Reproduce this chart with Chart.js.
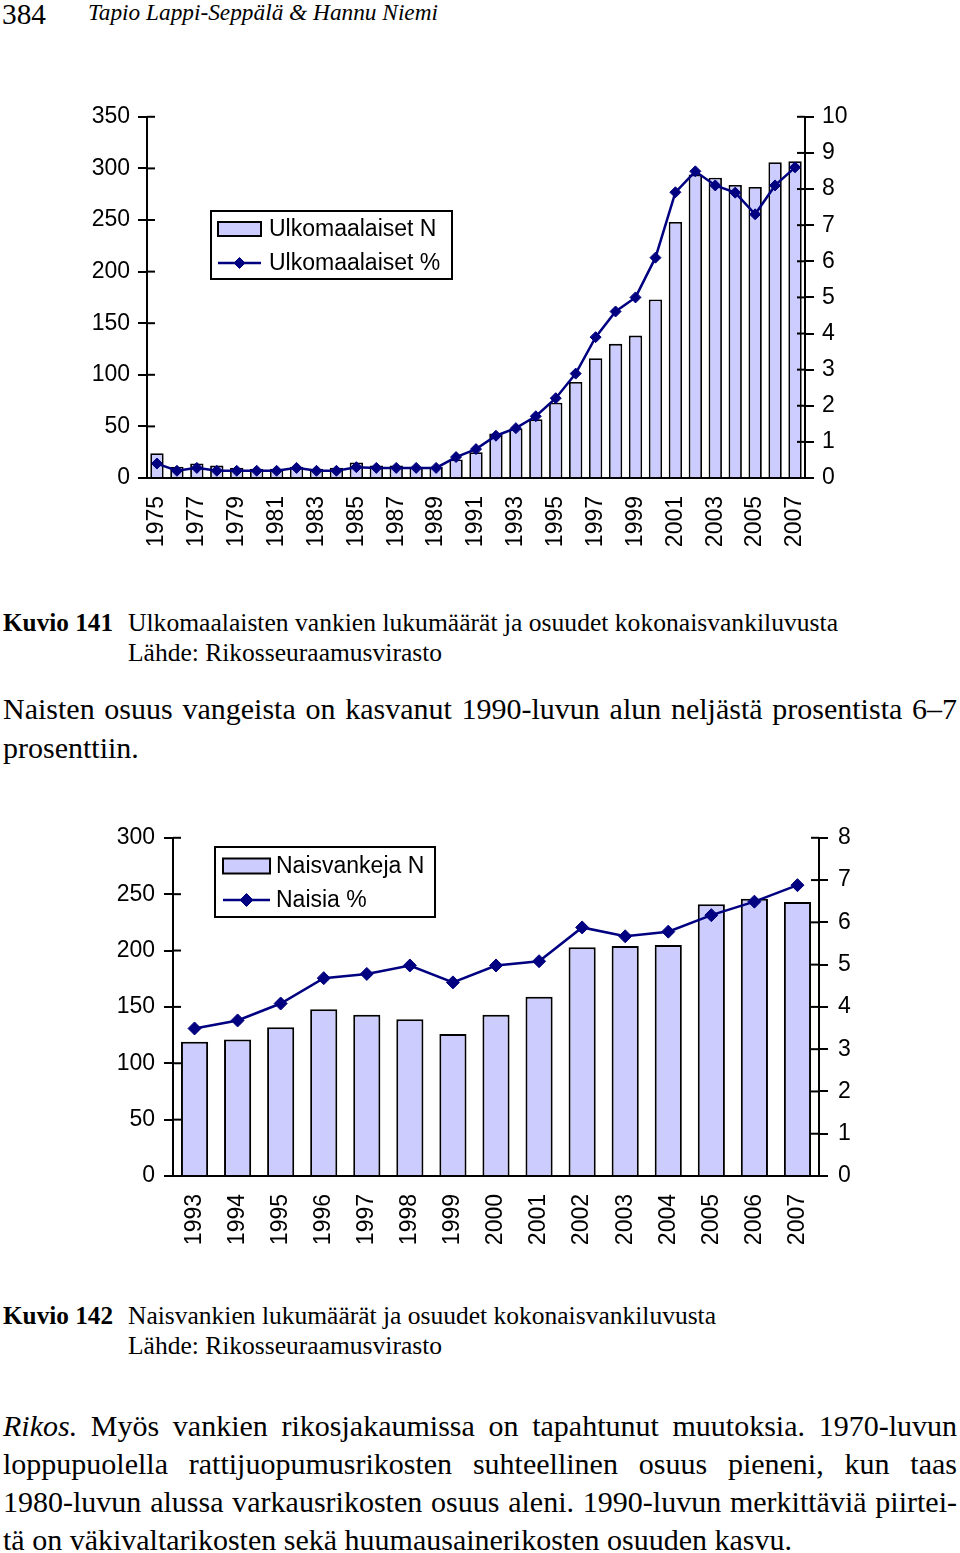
<!DOCTYPE html>
<html>
<head>
<meta charset="utf-8">
<script src="https://cdn.jsdelivr.net/npm/chart.js@4.4.1/dist/chart.umd.min.js"></script>
<style>
  body { margin: 0; background: #fff; width: 960px; height: 1553px; position: relative; overflow: hidden;
         font-family: "Liberation Serif", "Times New Roman", serif; color: #000; }
  .t { position: absolute; white-space: pre; line-height: 1; transform-origin: 0 50%; }
  .j { position: absolute; line-height: 1; white-space: nowrap; text-align: justify; text-align-last: justify; }
  canvas { position: absolute; left: 0; }
</style>
</head>
<body>
<div class="t" style="left:2px;top:0px;font-size:29px" data-w="44">384</div>
<div class="t" style="left:88px;top:1px;font-size:23px;font-style:italic" data-w="350">Tapio Lappi-Seppälä &amp; Hannu Niemi</div>

<canvas id="chart1" width="900" height="465" style="top:95px"></canvas>

<div class="t" style="left:3px;top:610px;font-size:25px;font-weight:bold" data-w="110">Kuvio 141</div>
<div class="t" style="left:128px;top:610px;font-size:25px" data-w="710">Ulkomaalaisten vankien lukumäärät ja osuudet kokonaisvankiluvusta</div>
<div class="t" style="left:128px;top:640px;font-size:25px" data-w="314">Lähde: Rikosseuraamusvirasto</div>

<div class="j" style="left:3px;top:694px;width:954px;font-size:30px">Naisten osuus vangeista on kasvanut 1990-luvun alun neljästä prosentista 6–7</div>
<div class="t" style="left:3px;top:733px;font-size:30px">prosenttiin.</div>

<canvas id="chart2" width="900" height="446" style="top:814px"></canvas>

<div class="t" style="left:3px;top:1303px;font-size:25px;font-weight:bold" data-w="110">Kuvio 142</div>
<div class="t" style="left:128px;top:1303px;font-size:25px" data-w="588">Naisvankien lukumäärät ja osuudet kokonaisvankiluvusta</div>
<div class="t" style="left:128px;top:1333px;font-size:25px" data-w="314">Lähde: Rikosseuraamusvirasto</div>

<div class="j" style="left:3px;top:1411px;width:954px;font-size:30px"><i>Rikos.</i> Myös vankien rikosjakaumissa on tapahtunut muutoksia. 1970-luvun</div>
<div class="j" style="left:3px;top:1449px;width:954px;font-size:30px">loppupuolella rattijuopumusrikosten suhteellinen osuus pieneni, kun taas</div>
<div class="j" style="left:3px;top:1487px;width:954px;font-size:30px">1980-luvun alussa varkausrikosten osuus aleni. 1990-luvun merkittäviä piirtei-</div>
<div class="t" style="left:3px;top:1525px;font-size:30px">tä on väkivaltarikosten sekä huumausainerikosten osuuden kasvu.</div>

<script>
// stretch caption lines to the widths measured on the reference
document.querySelectorAll('.t[data-w]').forEach(el => {
  const w = el.getBoundingClientRect().width;
  el.style.transform = 'scaleX(' + (el.dataset.w / w) + ')';
});

// Kuvio 141: ulkomaalaiset vangit
const years1 = ['1975','1976','1977','1978','1979','1980','1981','1982','1983','1984','1985',
  '1986','1987','1988','1989','1990','1991','1992','1993','1994','1995','1996','1997','1998',
  '1999','2000','2001','2002','2003','2004','2005','2006','2007'];
const foreignN = [24, 11, 14, 12, 10, 9, 9, 11, 9, 10, 15, 12, 12, 11, 11, 18, 25, 43, 48, 57,
  73, 93, 116, 130, 138, 173, 248, 294, 291, 284, 282, 306, 307];
const foreignPct = [0.4, 0.2, 0.28, 0.2, 0.2, 0.2, 0.2, 0.28, 0.2, 0.2, 0.3, 0.28, 0.28, 0.28,
  0.28, 0.58, 0.8, 1.17, 1.38, 1.71, 2.21, 2.89, 3.9, 4.61, 5.0, 6.1, 7.91, 8.49, 8.1, 7.9,
  7.3, 8.1, 8.6];

// Kuvio 142: naisvangit
const years2 = ['1993','1994','1995','1996','1997','1998','1999','2000','2001','2002','2003',
  '2004','2005','2006','2007'];
const womenN = [119, 121, 132, 148, 143, 139, 126, 143, 159, 203, 204, 205, 241, 246, 243];
const womenPct = [3.49, 3.68, 4.08, 4.68, 4.78, 4.98, 4.58, 4.98, 5.08, 5.88, 5.67, 5.78, 6.17,
  6.49, 6.88];

const NAVY = '#000080';
const BAR = '#ccccff';
const tickFont = { family: 'Liberation Sans', size: 23 };

// legend inside a framed box, like the original Excel charts
const boxLegend = {
  id: 'boxLegend',
  afterDraw(chart, args, o) {
    const ctx = chart.ctx;
    const [bars, line] = chart.data.datasets;
    ctx.save();
    ctx.fillStyle = '#fff';
    ctx.fillRect(o.x, o.y, o.w, o.h);
    ctx.lineWidth = 2;
    ctx.strokeStyle = '#000';
    ctx.strokeRect(o.x, o.y, o.w, o.h);
    // bar swatch
    ctx.fillStyle = BAR;
    ctx.fillRect(o.sx, o.row1 - o.sh / 2, o.sw, o.sh);
    ctx.strokeRect(o.sx, o.row1 - o.sh / 2, o.sw, o.sh);
    // line swatch
    ctx.strokeStyle = NAVY;
    ctx.fillStyle = NAVY;
    ctx.lineWidth = 2.5;
    ctx.beginPath();
    ctx.moveTo(o.sx, o.row2);
    ctx.lineTo(o.sx + o.sw, o.row2);
    ctx.stroke();
    ctx.lineWidth = 1;
    Chart.helpers.drawPoint(ctx, { pointStyle: 'rectRot', radius: o.r, borderWidth: 1 },
      o.sx + o.sw / 2, o.row2);
    ctx.fillStyle = '#000';
    ctx.font = '23px "Liberation Sans"';
    ctx.textBaseline = 'middle';
    ctx.fillText(bars.label, o.tx, o.row1 + 1);
    ctx.fillText(line.label, o.tx, o.row2 + 1);
    ctx.restore();
  }
};

// Excel-style tick marks that cross the axis line
const innerTicks = {
  id: 'innerTicks',
  afterDatasetsDraw(chart, args, o) {
    const ctx = chart.ctx;
    ctx.save();
    ctx.strokeStyle = '#000';
    ctx.lineWidth = 2;
    ['y', 'y1'].forEach(id => {
      const s = chart.scales[id];
      const x = id === 'y' ? s.right : s.left;
      const dir = id === 'y' ? 1 : -1;
      s.ticks.forEach(t => {
        const y = s.getPixelForValue(t.value);
        ctx.beginPath();
        ctx.moveTo(x, y);
        ctx.lineTo(x + dir * o.len, y);
        ctx.stroke();
      });
    });
    ctx.restore();
  }
};

function makeChart(id, cfg) {
  const fix = (prop, v) => (scale) => { scale[prop] = v; };
  return new Chart(document.getElementById(id), {
    type: 'bar',
    data: {
      labels: cfg.labels,
      datasets: [
        { label: cfg.barLabel, data: cfg.bars, yAxisID: 'y', order: 1,
          backgroundColor: BAR, borderColor: '#000', borderWidth: cfg.barBorder,
          barPercentage: cfg.barPct, categoryPercentage: 1 },
        { type: 'line', label: cfg.lineLabel, data: cfg.line, yAxisID: 'y1', order: 0,
          borderColor: NAVY, borderWidth: 2.5, pointStyle: 'rectRot', pointRadius: cfg.r,
          pointBackgroundColor: NAVY, pointBorderColor: NAVY, pointBorderWidth: 1, tension: 0 }
      ]
    },
    options: {
      responsive: false,
      animation: false,
      layout: { padding: { top: cfg.padTop, left: 0, right: 0, bottom: 0 } },
      plugins: {
        legend: { display: false },
        tooltip: { enabled: false },
        boxLegend: cfg.legend,
        innerTicks: { len: 8 }
      },
      scales: {
        x: {
          grid: { display: false, drawTicks: false },
          border: { color: '#000', width: 2 },
          ticks: { font: tickFont, color: '#000', autoSkip: false, minRotation: 90, maxRotation: 90,
                   padding: cfg.xPad, callback: cfg.xCallback },
          afterFit: fix('height', cfg.xHeight)
        },
        y: {
          position: 'left', min: 0, max: cfg.yMax,
          grid: { drawOnChartArea: false, tickLength: 9, color: '#000', lineWidth: 2 },
          border: { color: '#000', width: 2 },
          ticks: { stepSize: cfg.yStep, font: tickFont, color: '#000', padding: cfg.yPad },
          afterFit: fix('width', cfg.leftW)
        },
        y1: {
          position: 'right', min: 0, max: cfg.y1Max,
          grid: { drawOnChartArea: false, tickLength: 9, color: '#000', lineWidth: 2 },
          border: { color: '#000', width: 2 },
          ticks: { stepSize: 1, font: tickFont, color: '#000', padding: cfg.y1Pad },
          afterFit: fix('width', cfg.rightW)
        }
      }
    },
    plugins: [boxLegend, innerTicks]
  });
}

makeChart('chart1', {
  labels: years1, bars: foreignN, line: foreignPct,
  barLabel: 'Ulkomaalaiset N', lineLabel: 'Ulkomaalaiset %',
  barPct: 0.67, barBorder: 1.8, r: 5.5,
  yMax: 350, yStep: 50, y1Max: 10,
  padTop: 10, leftW: 147, rightW: 95, xHeight: 82,
  xPad: 18, yPad: 8, y1Pad: 8,
  xCallback: (v, i) => (i % 2 === 0 ? years1[i] : null),
  legend: { x: 211, y: 116, w: 241, h: 68, sx: 218, sw: 43, sh: 14, row1: 134, row2: 168, tx: 269, r: 5.5 }
});

makeChart('chart2', {
  labels: years2, bars: womenN, line: womenPct,
  barLabel: 'Naisvankeja N', lineLabel: 'Naisia %',
  barPct: 0.63, barBorder: 2, r: 6.5,
  yMax: 300, yStep: 50, y1Max: 8,
  padTop: 10, leftW: 173, rightW: 81, xHeight: 84,
  xPad: 18, yPad: 9, y1Pad: 10,
  xCallback: (v, i) => years2[i],
  legend: { x: 215, y: 33, w: 220, h: 70, sx: 223, sw: 47, sh: 15, row1: 52, row2: 86, tx: 276, r: 6.5 }
});
</script>
</body>
</html>
